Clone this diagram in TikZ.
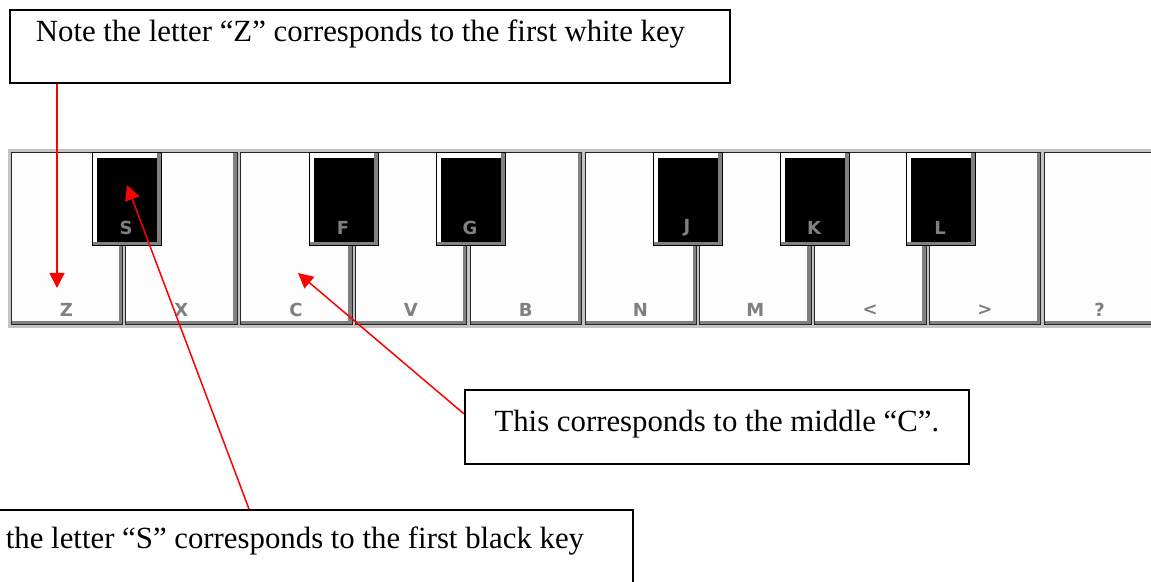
\documentclass[tikz,border=0pt]{standalone}
\usepackage{fontspec}
\setmainfont{Liberation Serif}
\newfontfamily\keyfont{DejaVu Sans}
\usetikzlibrary{arrows.meta, positioning, calc}
\definecolor{frameColor}{RGB}{196,196,196}
\definecolor{shadowColor}{RGB}{128,128,128}
\definecolor{faceColor}{RGB}{253,253,253}
\definecolor{labelColor}{RGB}{128,128,128}
\definecolor{pointerColor}{RGB}{255,0,0}

\begin{document}
\begin{tikzpicture}[
    x=0.5pt, y=-0.5pt,
    note/.style={draw=black, line width=0.9pt, fill=white, anchor=north west, inner ysep=5pt, font=\fontsize{15.4}{18}\selectfont},  % Word text boxes
    keylabel/.style={text=labelColor, inner sep=0pt, font=\keyfont\bfseries\fontsize{9}{10}\selectfont},
    pointer/.style={draw=pointerColor, line width=0.75pt, -{Triangle[length=7.5pt, width=7.5pt]}},
    every node/.style={text=black}
]

% Page size
\useasboundingbox (0,0) rectangle (1151,582);
\clip (0,0) rectangle (1151,582);

% Keyboard frame
\fill[frameColor] (8,149) rectangle (1160,328);

% White keys
\foreach \lab [count=\i from 0] in {Z,X,C,V,B,N,M,<,>,?} {
    \pgfmathsetmacro\xa{11+114.8*\i}
    \filldraw[draw=black!85, fill=shadowColor, line width=0.5pt] (\xa,153) rectangle ++(111.5,172);
    \fill[faceColor] (\xa+0.5,153.5) rectangle (\xa+107.5,321);
    \node[keylabel] (wkey\i) at (\xa+55.5,310) {\lab};
}

% Black keys
\foreach \xb/\lab in {92/S,309/F,436/G,653/J,780/K,906/L} {
    \filldraw[draw=black, fill=shadowColor, line width=0.5pt] (\xb,153) rectangle ++(69,93);
    \fill[white] (\xb+0.5,153.5) rectangle (\xb+65,242);
    \fill[black] (\xb+4.5,158) rectangle (\xb+65,242);
    \node[keylabel] (bkey\lab) at (\xb+34,228) {\lab};
}

% Notes
\node[note, inner xsep=13pt, text height=11pt, text depth=15.5pt] (zNote) at (9,9) {\makebox[334pt][l]{Note the letter “Z” corresponds to the first white key}};
\node[note, inner xsep=5pt, text height=16pt, text depth=11pt] (cNote) at (464,389) {\makebox[242pt][c]{This corresponds to the middle “C”.}};
\node[note, inner xsep=12.5pt, text height=14.5pt, text depth=25pt] (sNote) at (-20,509) {\makebox[301pt][l]{the letter “S” corresponds to the first black key}};

% Arrow targets on the keys
\coordinate (zTip) at (57,288);
\coordinate (sTip) at (127,185);
\coordinate (cTip) at (298,273);

% Red pointers
\draw[pointer] (zTip |- zNote.south) -- (zTip);
\draw[pointer] ([xshift=134.5pt]sNote.north west) -- (sTip);
\draw[pointer] ([yshift=6.5pt]cNote.west) -- (cTip);

\end{tikzpicture}
\end{document}
